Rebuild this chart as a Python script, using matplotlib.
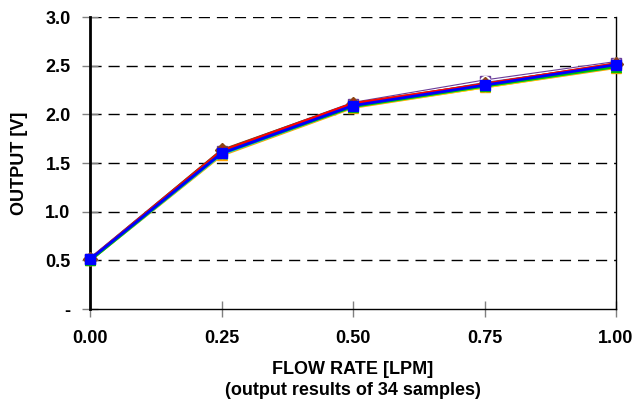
import matplotlib
matplotlib.use('Agg')
import matplotlib.pyplot as plt

# flow rate [LPM]
flow_rate = [0.00, 0.25, 0.50, 0.75, 1.00]

# output [V] of a few representative samples (out of 34)
sample_purple = [0.51, 1.62, 2.11, 2.34, 2.53]
sample_white = [0.51, 1.62, 2.11, 2.34, 2.53]
sample_orange = [0.50, 1.58, 2.07, 2.28, 2.48]
sample_yellow = [0.50, 1.59, 2.08, 2.28, 2.49]
sample_brown = [0.51, 1.63, 2.11, 2.31, 2.52]
sample_magenta = [0.51, 1.60, 2.09, 2.30, 2.50]
sample_cyan = [0.50, 1.59, 2.08, 2.29, 2.49]
sample_red = [0.51, 1.62, 2.11, 2.31, 2.52]
sample_green = [0.50, 1.60, 2.08, 2.29, 2.49]
sample_blue = [0.51, 1.60, 2.09, 2.30, 2.51]

y_ticks = [0.0, 0.5, 1.0, 1.5, 2.0, 2.5, 3.0]
y_tick_labels = ['-', '0.5', '1.0', '1.5', '2.0', '2.5', '3.0']
x_tick_labels = ['0.00', '0.25', '0.50', '0.75', '1.00']

plt.rcParams['font.family'] = ['Liberation Sans', 'DejaVu Sans']
plt.rcParams['font.weight'] = 'bold'

fig = plt.figure(figsize=(6.36, 4.08), dpi=100)
ax = fig.add_axes([0.1415, 0.2426, 0.8271, 0.7157])

series = [
    (sample_purple, '#6a3d9a', 's', 2.6),
    (sample_white, 'white', 'o', 1.0),
    (sample_orange, '#ffa500', '^', 2.0),
    (sample_yellow, '#ffd700', 'v', 2.0),
    (sample_brown, '#8b4513', 'D', 2.0),
    (sample_magenta, '#cc66cc', 'o', 2.0),
    (sample_cyan, '#00cccc', 'x', 2.0),
    (sample_red, '#ff0000', '+', 2.0),
    (sample_green, '#00c000', '^', 2.0),
    (sample_blue, '#0000ff', 's', 2.0),
]
for values, color, marker, lw in series:
    ax.plot(flow_rate, values, color=color, lw=lw, marker=marker, markersize=7,
            markerfacecolor=color, markeredgecolor=color, clip_on=False, zorder=3)

ax.set_xlim(0, 1)
ax.set_ylim(0, 3)
ax.set_xticks(flow_rate)
ax.set_xticklabels(x_tick_labels, fontsize=13, fontweight='bold')
ax.set_yticks(y_ticks)
ax.set_yticklabels(y_tick_labels, fontsize=13, fontweight='bold')
ax.tick_params(axis='both', direction='inout', length=12, width=1, color='#808080')
ax.tick_params(axis='x', pad=9)
ax.tick_params(axis='y', pad=8)

for yv in y_ticks[1:]:
    ax.axhline(yv, color='black', lw=1, linestyle=(0, (8, 5)), zorder=1)

ax.spines['top'].set_visible(False)
ax.spines['left'].set_linewidth(2)
ax.spines['bottom'].set_linewidth(1)
ax.spines['right'].set_linewidth(1)

ax.set_xlabel('FLOW RATE [LPM]\n(output results of 34 samples)', fontsize=13,
              fontweight='bold', linespacing=1.3)
ax.xaxis.set_label_coords(0.5, -0.178)
ax.set_ylabel('OUTPUT [V]', fontsize=13, fontweight='bold')
ax.yaxis.set_label_coords(-0.118, 0.5)

plt.savefig('out.png', dpi=100)
